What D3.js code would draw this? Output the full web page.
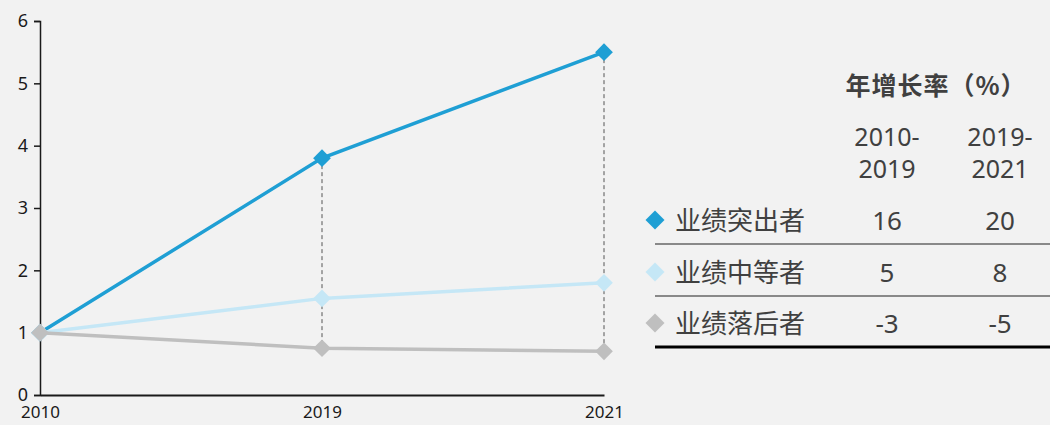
<!doctype html>
<html>
<head>
<meta charset="utf-8">
<script src="https://d3js.org/d3.v7.min.js"></script>
<style>
  body { margin: 0; background: #f2f2f2; }
  svg { display: block; font-family: "Noto Sans", "Noto Sans CJK SC", sans-serif; }
</style>
</head>
<body>
<svg width="1050" height="425"></svg>
<script>
  var years = ["2010", "2019", "2021"];
  var seriesNames = ["业绩突出者", "业绩中等者", "业绩落后者"];
  var top_ = [1, 3.8, 5.5];
  var middle = [1, 1.55, 1.8];
  var bottom = [1, 0.75, 0.7];
  var yTicks = [0, 1, 2, 3, 4, 5, 6];
  var periods = [["2010-", "2019"], ["2019-", "2021"]];
  var rate1019 = [16, 5, -3];
  var rate1921 = [20, 8, -5];
  var colors = ["#1f9fd4", "#c5e7f6", "#bfbfbf"];

  var series = [top_, middle, bottom];

  var svg = d3.select("svg");

  var x = d3.scalePoint().domain(years).range([40, 604]);
  var y = d3.scaleLinear().domain([0, 6]).range([395, 21]);

  // y axis
  var yAxis = svg.append("g")
    .attr("transform", "translate(40,0)")
    .call(d3.axisLeft(y).tickValues(yTicks).tickFormat(d3.format("d")).tickSize(6).tickPadding(6));
  yAxis.selectAll("text")
    .style("font-size", "18px")
    .style("font-family", "'Noto Sans', sans-serif")
    .attr("fill", "#1a1a1a");
  yAxis.selectAll("line, path").attr("stroke", "#1a1a1a").attr("stroke-width", 1.5);

  // x axis
  var xAxis = svg.append("g")
    .attr("transform", "translate(0,395)")
    .call(d3.axisBottom(x).tickSize(0).tickPadding(11).tickSizeOuter(0));
  xAxis.selectAll("text")
    .style("font-size", "17px")
    .style("font-family", "'Noto Sans', sans-serif")
    .attr("fill", "#1a1a1a");
  xAxis.select("path").attr("stroke", "#1a1a1a").attr("stroke-width", 2);

  // dashed drop lines
  svg.selectAll(".drop")
    .data(years.slice(1))
    .enter().append("line")
    .attr("x1", function (d) { return x(d); })
    .attr("x2", function (d) { return x(d); })
    .attr("y1", function (d, i) { return y(top_[i + 1]); })
    .attr("y2", function (d, i) { return y(bottom[i + 1]); })
    .attr("stroke", "#555")
    .attr("stroke-width", 1)
    .attr("stroke-dasharray", "4,3");

  var line = d3.line()
    .x(function (d, i) { return x(years[i]); })
    .y(function (d) { return y(d); });

  var diamond = d3.symbol().type(d3.symbolDiamond2).size(200);

  [0, 1, 2].forEach(function (k) {
    svg.append("path")
      .attr("d", line(series[k]))
      .attr("fill", "none")
      .attr("stroke", colors[k])
      .attr("stroke-width", 3.5);
    svg.selectAll(".m" + k)
      .data(series[k])
      .enter().append("path")
      .attr("d", diamond)
      .attr("transform", function (d, i) { return "translate(" + x(years[i]) + "," + y(d) + ")"; })
      .attr("fill", colors[k]);
  });

  // table
  var tcol = [887, 1000];
  var rowY = [230, 282, 333];
  var tc = "#404040";

  svg.append("text")
    .attr("x", 936).attr("y", 95)
    .attr("text-anchor", "middle")
    .attr("font-family", "'Noto Sans CJK SC', sans-serif")
    .attr("font-weight", "bold")
    .attr("font-size", "25px")
    .attr("letter-spacing", "1px")
    .attr("fill", tc)
    .text("年增长率（%）");

  periods.forEach(function (p, j) {
    p.forEach(function (s, l) {
      svg.append("text")
        .attr("x", tcol[j]).attr("y", 146 + l * 32)
        .attr("text-anchor", "middle")
        .attr("font-size", "25px")
        .attr("fill", tc)
        .text(s);
    });
  });

  seriesNames.forEach(function (name, i) {
    svg.append("path")
      .attr("d", d3.symbol().type(d3.symbolDiamond2).size(230)())
      .attr("transform", "translate(655," + (rowY[i] - 10) + ")")
      .attr("fill", colors[i]);
    svg.append("text")
      .attr("x", 675).attr("y", rowY[i])
      .attr("font-family", "'Noto Sans CJK SC', sans-serif")
      .attr("font-size", "26px")
      .attr("fill", tc)
      .text(name);
    [rate1019[i], rate1921[i]].forEach(function (v, j) {
      svg.append("text")
        .attr("x", tcol[j]).attr("y", rowY[i])
        .attr("text-anchor", "middle")
        .attr("font-size", "26px")
        .attr("fill", tc)
        .text(v);
    });
  });

  var sepY = [244, 296, 347];
  sepY.forEach(function (yy, i) {
    svg.append("line")
      .attr("x1", 655).attr("x2", 1050)
      .attr("y1", yy).attr("y2", yy)
      .attr("stroke", i < 2 ? "#666" : "#000")
      .attr("stroke-width", i < 2 ? 1.5 : 3);
  });
</script>
</body>
</html>
